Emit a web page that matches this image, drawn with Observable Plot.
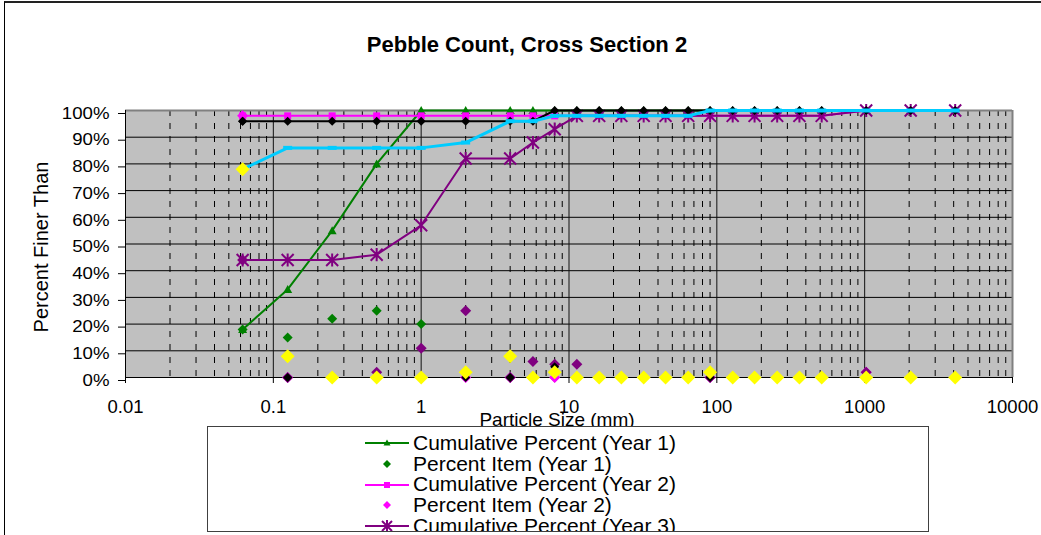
<!DOCTYPE html>
<html>
<head>
<meta charset="utf-8">
<script src="https://cdn.jsdelivr.net/npm/d3@7"></script>
<script src="https://cdn.jsdelivr.net/npm/@observablehq/plot@0.6"></script>
<style>
  html, body { margin: 0; padding: 0; background: #fff; overflow: hidden; }
  #wrap { position: relative; width: 1041px; height: 535px; overflow: hidden;
          font-family: "Liberation Sans", Arial, sans-serif; color: #000; background: #fff; }
  #chart { position: absolute; left: 0; top: 0; }
  #outer { position: absolute; left: 4px; top: 1px; width: 1200px; height: 700px;
           border-left: 1px solid #000; border-top: 2px solid #222; pointer-events: none; }
  #title { position: absolute; left: 527px; top: 34px; transform: translateX(-50%);
           font-weight: bold; font-size: 22px; line-height: 22px; white-space: nowrap; }
  #ylabel { position: absolute; left: 41px; top: 247px; transform: translate(-50%, -50%) rotate(-90deg);
            font-size: 20px; line-height: 20px; white-space: nowrap; }
  #xlabel { position: absolute; left: 557px; top: 410px; transform: translateX(-50%);
            font-size: 19px; line-height: 19px; white-space: nowrap; }
  #legend { position: absolute; left: 207px; top: 426px; width: 722px; height: 106px; box-sizing: border-box;
            border: 1px solid #404040; background: #fff; overflow: hidden; }
  .lrow { position: absolute; left: 0; height: 20.7px; width: 100%; }
  .lrow svg { position: absolute; left: 157px; top: 0.35px; }
  .lrow span { position: absolute; left: 205px; top: 0; font-size: 21px; line-height: 20.7px; white-space: nowrap; }
</style>
</head>
<body>
<div id="wrap">
  <div id="chart"></div>
  <div id="outer"></div>
  <div id="title"></div>
  <div id="ylabel"></div>
  <div id="xlabel"></div>
  <div id="legend"></div>
</div>
<script>
// ---------------- data ----------------
const titleText = "Pebble Count, Cross Section 2";
const xLabelText = "Particle Size (mm)";
const yLabelText = "Percent Finer Than";

const sizes = [0.062, 0.125, 0.25, 0.5, 1, 2, 4, 5.7, 8, 11.3, 16, 22.6, 32, 45, 64, 90, 128, 180, 256, 362, 512, 1024, 2048, 4096];

const cumYear1  = [18, 33, 55, 80, 100, 100, 100, 100, 100, 100, 100, 100, 100, 100, 100, 100, 100, 100, 100, 100, 100, 100, 100, 100];
const itemYear1 = [18, 15, 22, 25, 20, 0, 0, 0, 0, 0, 0, 0, 0, 0, 0, 0, 0, 0, 0, 0, 0, 0, 0, 0];
const cumYear2  = [98, 98, 98, 98, 98, 98, 98, 98, 98, 98, 98, 98, 98, 98, 98, 98, 98, 98, 98, 98, 98, 100, 100, 100];
const itemYear2 = [98, 0, 0, 0, 0, 0, 0, 0, 0, 0, 0, 0, 0, 0, 0, 0, 0, 0, 0, 0, 0, 2, 0, 0];
const cumYear3  = [44, 44, 44, 46, 57, 82, 82, 88, 93, 98, 98, 98, 98, 98, 98, 98, 98, 98, 98, 98, 98, 100, 100, 100];
const itemYear3 = [44, 0, 0, 2, 11, 25, 0, 6, 5, 5, 0, 0, 0, 0, 0, 0, 0, 0, 0, 0, 0, 2, 0, 0];
const cumYear4  = [96, 96, 96, 96, 96, 96, 96, 96, 100, 100, 100, 100, 100, 100, 100, 100, 100, 100, 100, 100, 100, 100, 100, 100];
const itemYear4 = [96, 0, 0, 0, 0, 0, 0, 0, 4, 0, 0, 0, 0, 0, 0, 0, 0, 0, 0, 0, 0, 0, 0, 0];
const cumYear5  = [78, 86, 86, 86, 86, 88, 96, 96, 98, 98, 98, 98, 98, 98, 98, 100, 100, 100, 100, 100, 100, 100, 100, 100];
const itemYear5 = [78, 8, 0, 0, 0, 2, 8, 0, 2, 0, 0, 0, 0, 0, 0, 2, 0, 0, 0, 0, 0, 0, 0, 0];

const legendLabels = [
  "Cumulative Percent (Year 1)",
  "Percent Item (Year 1)",
  "Cumulative Percent (Year 2)",
  "Percent Item (Year 2)",
  "Cumulative Percent (Year 3)"
];

const xTicks = [0.01, 0.1, 1, 10, 100, 1000, 10000];
const xTickLabels = ["0.01", "0.1", "1", "10", "100", "1000", "10000"];
const yTicks = [0, 10, 20, 30, 40, 50, 60, 70, 80, 90, 100];
const yTickLabels = ["0%", "10%", "20%", "30%", "40%", "50%", "60%", "70%", "80%", "90%", "100%"];

// ---------------- helpers ----------------
const rows = (ys) => sizes.map((x, i) => ({x, y: ys[i]}));
const rad = (size) => Math.sqrt(size / Math.PI);
const diamond = {draw(c, s) { const r = rad(s); c.moveTo(0, -r); c.lineTo(r, 0); c.lineTo(0, r); c.lineTo(-r, 0); c.closePath(); }};
const triangle = {draw(c, s) { const r = rad(s); c.moveTo(0, -r); c.lineTo(r, r * 0.8); c.lineTo(-r, r * 0.8); c.closePath(); }};
const square = {draw(c, s) { const r = rad(s); c.rect(-r, -r, 2 * r, 2 * r); }};
const asterisk = {draw(c, s) { const r = rad(s); c.moveTo(-r, -r); c.lineTo(r, r); c.moveTo(-r, r); c.lineTo(r, -r); c.moveTo(0, -r * 1.1); c.lineTo(0, r * 1.1); }};
const dash = {draw(c, s) { const r = rad(s); c.rect(-r, -r * 0.45, 2 * r, r * 0.9); }};

const GREEN = "#008000", MAGENTA = "#FF00FF", PURPLE = "#800080", BLACK = "#000000", CYAN = "#00CCFF", YELLOW = "#FFFF00";

const minorX = xTicks.slice(0, -1).flatMap(d => [2, 3, 4, 5, 6, 7, 8, 9].map(k => d * k));
const majorX = xTicks.slice(1, -1);
const gridY = yTicks.slice(1, -1);

const chart = Plot.plot({
  width: 1041,
  height: 535,
  marginLeft: 125,
  marginRight: 29,
  marginTop: 110,
  marginBottom: 158,
  style: {fontFamily: "Liberation Sans, Arial, sans-serif", background: "transparent", overflow: "visible", color: "#000"},
  x: {type: "log", domain: [0.01, 10000]},
  y: {domain: [0, 100]},
  marks: [
    Plot.frame({fill: "#C0C0C0", stroke: "none"}),
    Plot.ruleY(gridY, {stroke: "#000", strokeWidth: 1}),
    Plot.ruleX(minorX, {stroke: "#000", strokeWidth: 1, strokeDasharray: "6,7"}),
    Plot.ruleX(majorX, {stroke: "#111", strokeWidth: 1}),
    Plot.ruleY([100], {stroke: "#808080", strokeWidth: 2}),
    Plot.ruleX([10000], {stroke: "#808080", strokeWidth: 2}),
    Plot.axisY({ticks: yTicks, tickFormat: d => yTickLabels[yTicks.indexOf(d)], tickSize: 7, tickPadding: 9,
                fontSize: 16.5, dy: 3, label: null, stroke: "#000"}),
    Plot.axisX({ticks: xTicks, tickFormat: d => xTickLabels[xTicks.indexOf(d)], tickSize: 6, tickPadding: 16,
                fontSize: 18.5, label: null, stroke: "#000"}),
    Plot.ruleX([0.01], {stroke: "#000", strokeWidth: 1}),
    Plot.ruleY([0], {stroke: "#000", strokeWidth: 1}),

    // Year 1
    Plot.line(rows(cumYear1), {x: "x", y: "y", stroke: GREEN, strokeWidth: 2}),
    Plot.dot(rows(cumYear1), {x: "x", y: "y", symbol: triangle, r: 4.5, fill: GREEN, stroke: "none"}),
    Plot.dot(rows(itemYear1), {x: "x", y: "y", symbol: diamond, r: 5, fill: GREEN, stroke: "none"}),
    // Year 2
    Plot.line(rows(cumYear2), {x: "x", y: "y", stroke: MAGENTA, strokeWidth: 2}),
    Plot.dot(rows(cumYear2), {x: "x", y: "y", symbol: square, r: 3.5, fill: MAGENTA, stroke: "none"}),
    Plot.dot(rows(itemYear2), {x: "x", y: "y", symbol: diamond, r: 5.5, fill: MAGENTA, stroke: "none"}),
    // Year 3
    Plot.line(rows(cumYear3), {x: "x", y: "y", stroke: PURPLE, strokeWidth: 2}),
    Plot.dot(rows(cumYear3), {x: "x", y: "y", symbol: asterisk, r: 6, fill: "none", stroke: PURPLE, strokeWidth: 2}),
    Plot.dot(rows(itemYear3), {x: "x", y: "y", symbol: diamond, r: 5.5, fill: PURPLE, stroke: "none"}),
    // Year 4
    Plot.line(rows(cumYear4), {x: "x", y: "y", stroke: BLACK, strokeWidth: 2}),
    Plot.dot(rows(cumYear4), {x: "x", y: "y", symbol: diamond, r: 4.5, fill: BLACK, stroke: "none"}),
    Plot.dot(rows(itemYear4), {x: "x", y: "y", symbol: diamond, r: 4.5, fill: BLACK, stroke: "none"}),
    // Year 5
    Plot.line(rows(cumYear5), {x: "x", y: "y", stroke: CYAN, strokeWidth: 3}),
    Plot.dot(rows(cumYear5), {x: "x", y: "y", symbol: dash, r: 4.5, fill: CYAN, stroke: "none"}),
    Plot.dot(rows(itemYear5), {x: "x", y: "y", symbol: diamond, r: 7, fill: YELLOW, stroke: "none"})
  ]
});

// widen the y tick labels horizontally about their anchor, as in the reference
function stretch(selector, s) {
  chart.querySelectorAll(selector).forEach(t => {
    let x = parseFloat(t.getAttribute("x"));
    if (!isFinite(x)) x = 0;
    const tr = t.getAttribute("transform") || "";
    t.setAttribute("transform", `${tr} translate(${x},0) scale(${s},1) translate(${-x},0)`.trim());
  });
}
stretch('[aria-label="y-axis tick label"] text', 1.13);

document.getElementById("chart").appendChild(chart);
document.getElementById("title").textContent = titleText;
document.getElementById("ylabel").textContent = yLabelText;
document.getElementById("xlabel").textContent = xLabelText;

// legend
const legendSwatches = [
  {color: GREEN, line: true, mark: "M22,6.5L25.5,12.5L18.5,12.5Z", fill: true},
  {color: GREEN, line: false, mark: "M22,6L26,10L22,14L18,10Z", fill: true},
  {color: MAGENTA, line: true, mark: "M19,7H25V13H19Z", fill: true},
  {color: MAGENTA, line: false, mark: "M22,6L26,10L22,14L18,10Z", fill: true},
  {color: PURPLE, line: true, mark: "M17,5L27,15M17,15L27,5M22,4V16", fill: false}
];
const legend = document.getElementById("legend");
legendLabels.forEach((label, i) => {
  const sw = legendSwatches[i];
  const row = document.createElement("div");
  row.className = "lrow";
  row.style.top = (6 + 20.7 * i) + "px";
  row.innerHTML =
    `<svg width="44" height="20" viewBox="0 0 44 20">` +
    (sw.line ? `<line x1="0" y1="10" x2="44" y2="10" stroke="${sw.color}" stroke-width="2"/>` : "") +
    `<path d="${sw.mark}" ${sw.fill ? `fill="${sw.color}"` : `fill="none" stroke="${sw.color}" stroke-width="2"`}/>` +
    `</svg>`;
  const span = document.createElement("span");
  span.textContent = label;
  row.appendChild(span);
  legend.appendChild(row);
});
</script>
</body>
</html>
